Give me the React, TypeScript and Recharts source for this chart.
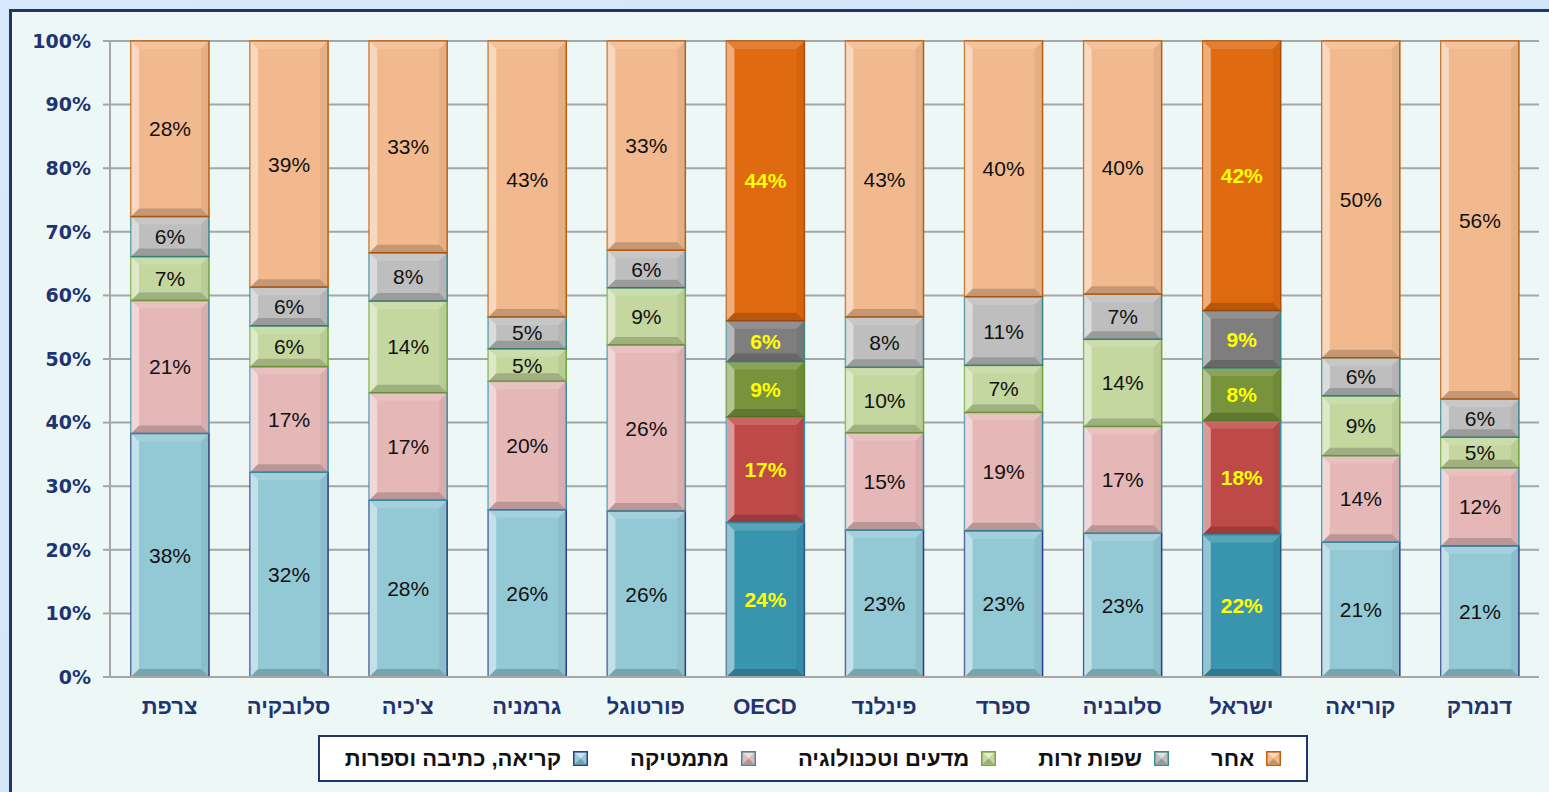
import { BarChart, Bar, XAxis, YAxis, CartesianGrid, LabelList } from 'recharts';

const categories = ['צרפת', 'סלובקיה', "צ'כיה", 'גרמניה', 'פורטוגל', 'OECD', 'פינלנד', 'ספרד', 'סלובניה', 'ישראל', 'קוריאה', 'דנמרק'];
const reading = [38.3, 32.2, 27.8, 26.3, 26.1, 24.3, 23.1, 23.0, 22.6, 22.4, 21.2, 20.6];
const math = [20.9, 16.6, 16.9, 20.2, 26.1, 16.6, 15.3, 18.6, 16.8, 17.9, 13.6, 12.3];
const science = [6.9, 6.4, 14.4, 5.1, 9.0, 8.7, 10.3, 7.4, 13.7, 8.3, 9.4, 4.8];
const languages = [6.3, 6.1, 7.6, 5.0, 5.9, 6.4, 7.9, 10.8, 7.1, 9.0, 6.0, 6.0];
const other = [27.6, 38.7, 33.3, 43.4, 32.9, 44.0, 43.4, 40.2, 39.8, 42.4, 49.8, 56.3];
const highlighted = ['OECD', 'ישראל'];
const yTicks = [0, 10, 20, 30, 40, 50, 60, 70, 80, 90, 100];

const data = categories.map((name, i) => ({
  name,
  reading: reading[i],
  math: math[i],
  science: science[i],
  languages: languages[i],
  other: other[i],
}));

const series = [
  { key: 'reading', label: 'קריאה, כתיבה וספרות', light: '#93C8D5', dark: '#3994AE', stroke: '#2B3F8C', darkStroke: '#2B5C8C' },
  { key: 'math', label: 'מתמטיקה', light: '#E5B7B7', dark: '#BE4A48', stroke: '#3C8EA8', darkStroke: '#3C8EA8' },
  { key: 'science', label: 'מדעים וטכנולוגיה', light: '#C4D79E', dark: '#77933C', stroke: '#77A83C', darkStroke: '#5E8A2A' },
  { key: 'languages', label: 'שפות זרות', light: '#BEBEBE', dark: '#7E7E7E', stroke: '#3A8A8A', darkStroke: '#3A8A8A' },
  { key: 'other', label: 'אחר', light: '#F2B98E', dark: '#E06A0F', stroke: '#C0600E', darkStroke: '#B0520A' },
];

const NAVY = '#1F3470';

function makeShape(s: any) {
  return (props: any) => {
    const { x, y, width: w, height: h, index } = props;
    if (!h || h <= 0) return <g />;
    const hi = highlighted.includes(categories[index]);
    const b = Math.min(8, h / 2);
    return (
      <g>
        <rect x={x} y={y} width={w} height={h} fill={hi ? s.dark : s.light} stroke={hi ? s.darkStroke : s.stroke} strokeWidth={1.5} />
        <polygon points={`${x},${y} ${x + b},${y + b} ${x + b},${y + h - b} ${x},${y + h}`} fill="#fff" opacity={0.45} />
        <polygon points={`${x},${y} ${x + w},${y} ${x + w - b},${y + b} ${x + b},${y + b}`} fill="#fff" opacity={0.15} />
        <polygon points={`${x + w},${y} ${x + w},${y + h} ${x + w - b},${y + h - b} ${x + w - b},${y + b}`} fill="#000" opacity={0.05} />
        <polygon points={`${x},${y + h} ${x + w},${y + h} ${x + w - b},${y + h - b} ${x + b},${y + h - b}`} fill="#000" opacity={0.18} />
      </g>
    );
  };
}

function renderLabel(props: any) {
  const { x, y, width, height, value, index } = props;
  const hi = highlighted.includes(categories[index]);
  return (
    <text
      x={x + width / 2}
      y={y + height / 2}
      textAnchor="middle"
      dominantBaseline="central"
      fontFamily="Liberation Sans, Arial, sans-serif"
      fontSize={21}
      fontWeight={hi ? 700 : 400}
      fill={hi ? '#FFFF00' : '#111'}
    >
      {Math.round(value)}%
    </text>
  );
}

function LegendMarker({ s }: { s: any }) {
  return (
    <svg width={15} height={15} style={{ display: 'block' }}>
      <rect x={0.75} y={0.75} width={13.5} height={13.5} fill={s.light} stroke={s.stroke} strokeWidth={1.5} />
      <polygon points="2,2 13,2 7.5,7.5" fill="#fff" opacity={0.5} />
      <polygon points="2,13 13,13 7.5,7.5" fill="#000" opacity={0.2} />
    </svg>
  );
}

export default function App() {
  return (
    <div
      style={{
        position: 'absolute',
        left: 0,
        top: 0,
        width: 1549,
        height: 792,
        overflow: 'hidden',
        background: 'linear-gradient(135deg, #D7E9FA 0%, #CFE3F7 100%)',
      }}
    >
      <div
        style={{
          position: 'absolute',
          left: 9,
          top: 9,
          width: 1560,
          height: 800,
          background: '#EDF8F6',
          border: `3px solid ${NAVY}`,
        }}
      />
      <div style={{ position: 'absolute', left: 0, top: 0 }}>
        <BarChart width={1549} height={792} data={data} margin={{ top: 41, right: 10, left: 2, bottom: 75 }} barSize={78}>
          <CartesianGrid vertical={false} stroke="#A6A6A6" strokeWidth={2} />
          <XAxis
            dataKey="name"
            height={40}
            interval={0}
            tickLine={false}
            axisLine={{ stroke: '#A6A6A6', strokeWidth: 2 }}
            tickMargin={15}
            tick={{ fill: NAVY, fontSize: 22, fontWeight: 700, fontFamily: 'Liberation Sans, Arial, sans-serif' }}
          />
          <YAxis
            width={108}
            domain={[0, 100]}
            ticks={yTicks}
            interval={0}
            tickFormatter={(v) => `${v}%`}
            tickSize={7}
            tickMargin={12}
            tickLine={{ stroke: '#A6A6A6', strokeWidth: 2 }}
            axisLine={{ stroke: '#A6A6A6', strokeWidth: 2 }}
            tick={{ fill: NAVY, fontSize: 19, fontWeight: 700, fontFamily: 'DejaVu Sans, Verdana, sans-serif' }}
          />
          {series.map((s) => (
            <Bar key={s.key} dataKey={s.key} stackId="a" isAnimationActive={false} shape={makeShape(s)} fill={s.light}>
              <LabelList dataKey={s.key} content={renderLabel} />
            </Bar>
          ))}
        </BarChart>
      </div>
      <div
        style={{
          position: 'absolute',
          left: 318,
          top: 735,
          width: 990,
          height: 47,
          boxSizing: 'border-box',
          background: '#fff',
          border: `2px solid ${NAVY}`,
          display: 'flex',
          direction: 'rtl',
          alignItems: 'center',
          justifyContent: 'center',
          gap: 42,
          fontFamily: 'Liberation Sans, Arial, sans-serif',
          fontSize: 22,
          fontWeight: 700,
          color: '#111',
        }}
      >
        {[...series].reverse().map((s) => (
          <div key={s.key} style={{ display: 'flex', alignItems: 'center', gap: 12 }}>
            <LegendMarker s={s} />
            <span>{s.label}</span>
          </div>
        ))}
      </div>
    </div>
  );
}
